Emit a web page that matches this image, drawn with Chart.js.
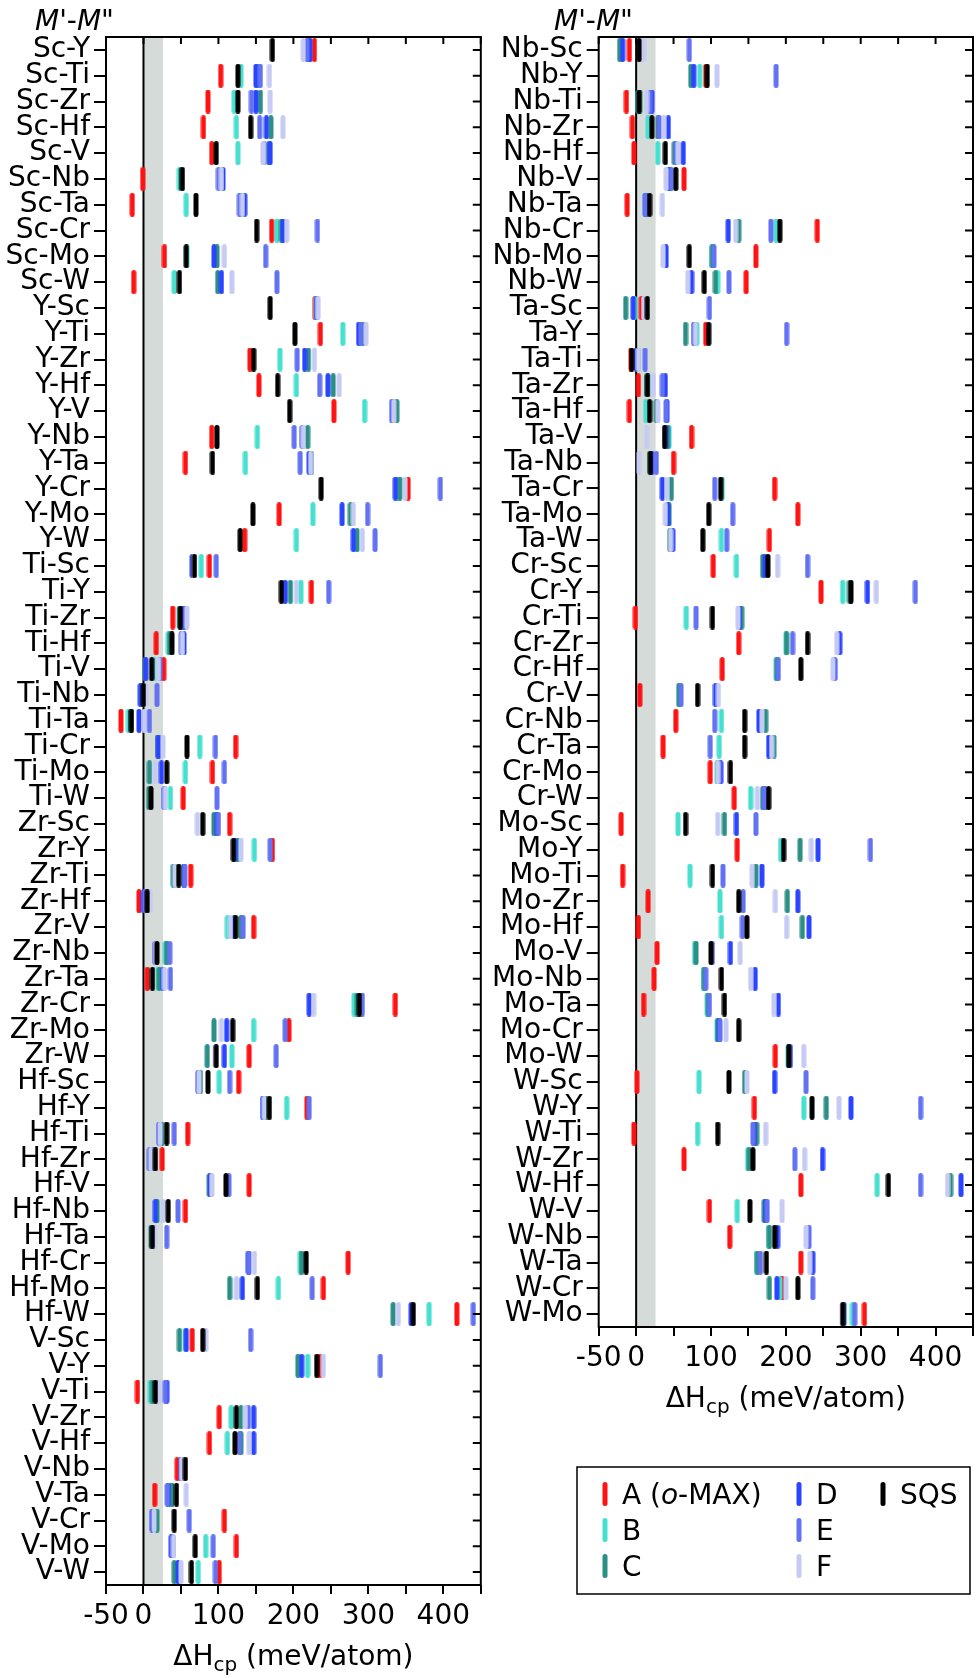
<!DOCTYPE html>
<html>
<head>
<meta charset="utf-8">
<script src="https://cdn.jsdelivr.net/npm/chart.js@4/dist/chart.umd.min.js"></script>
<style>
  html, body { margin: 0; padding: 0; background: #fff; }
  #wrap { position: relative; width: 979px; height: 1678px; }
  canvas { position: absolute; top: 0; }
  #left { left: 0; }
  #right { left: 490px; }
</style>
</head>
<body>
<div id="wrap">
  <canvas id="left" width="490" height="1678"></canvas>
  <canvas id="right" width="489" height="1678"></canvas>
</div>
<script>
// ---- data (meV/atom) ----
const seriesNames = ['A (*o*-MAX)', 'B', 'C', 'D', 'E', 'F', 'SQS'];   // *..* = italic
const seriesColors = ['#ff1212', '#45e0cf', '#2b8f86', '#2a44ff', '#6272f2', '#c6cbf4', '#000000'];
const xTickLabels = [-50, 0, 100, 200, 300, 400];
const bandRange = [0, 26];

const pairsLeft = ['Sc-Y','Sc-Ti','Sc-Zr','Sc-Hf','Sc-V','Sc-Nb','Sc-Ta','Sc-Cr','Sc-Mo','Sc-W',
  'Y-Sc','Y-Ti','Y-Zr','Y-Hf','Y-V','Y-Nb','Y-Ta','Y-Cr','Y-Mo','Y-W',
  'Ti-Sc','Ti-Y','Ti-Zr','Ti-Hf','Ti-V','Ti-Nb','Ti-Ta','Ti-Cr','Ti-Mo','Ti-W',
  'Zr-Sc','Zr-Y','Zr-Ti','Zr-Hf','Zr-V','Zr-Nb','Zr-Ta','Zr-Cr','Zr-Mo','Zr-W',
  'Hf-Sc','Hf-Y','Hf-Ti','Hf-Zr','Hf-V','Hf-Nb','Hf-Ta','Hf-Cr','Hf-Mo','Hf-W',
  'V-Sc','V-Y','V-Ti','V-Zr','V-Hf','V-Nb','V-Ta','V-Cr','V-Mo','V-W'];

const leftA = [228,103,86,80,91,-1,-15,171,28,-13, 229,236,142,154,254,91,56,353,181,135,
  88,224,39,17,27,-2,-30,123,92,53, 115,172,63,-6,147,30,5,336,194,141,
  127,218,59,25,141,56,11,273,240,418, 65,235,-8,101,88,45,15,108,124,101];
const leftB = [220,130,121,124,126,48,57,178,58,41, 230,266,182,204,295,152,136,339,226,204,
  77,210,48,33,14,-1,-20,75,56,36, 95,148,41,3,112,29,20,281,147,118,
  101,191,24,12,90,17,12,209,180,381, 56,219,9,117,112,52,37,17,83,73];
const leftC = [221,153,156,170,167,50,130,184,98,99, 231,293,220,253,338,219,224,342,276,285,
  66,196,50,35,2,-3,-17,19,8,7, 94,126,40,4,130,31,21,285,94,85,
  76,164,25,13,88,18,10,211,115,333, 48,206,12,130,130,53,38,18,39,41];
const leftD = [222,150,150,164,169,106,135,186,94,104, 231,287,215,246,333,212,221,336,265,280,
  65,189,54,54,3,-4,-6,20,24,28, 98,122,54,0,121,16,26,221,111,108,
  73,159,21,11,89,16,13,140,132,357, 57,211,31,147,147,50,33,12,37,46];
const leftE = [218,156,144,155,161,100,128,232,163,178, 231,290,205,235,331,201,209,396,299,309,
  97,247,56,50,22,18,8,96,108,98, 100,169,55,2,133,35,36,292,189,177,
  115,221,41,8,114,46,31,141,225,440, 143,316,29,140,128,50,32,61,93,96];
const leftF = [213,168,169,186,160,104,132,191,108,118, 233,297,228,261,334,213,223,349,280,292,
  67,204,58,52,20,3,1,26,15,29, 72,130,42,9,116,17,28,227,104,96,
  74,161,22,10,91,26,15,148,124,340, 83,240,21,136,141,51,57,14,40,50];
const leftSQS = [172,126,126,143,97,52,70,151,57,48, 169,202,147,179,195,98,92,237,146,129,
  68,184,49,38,11,0,-16,58,31,10, 79,120,47,5,123,18,12,288,119,97,
  86,168,31,16,110,33,12,217,152,360, 79,231,16,124,122,56,44,41,69,64];

const pairsRight = ['Nb-Sc','Nb-Y','Nb-Ti','Nb-Zr','Nb-Hf','Nb-V','Nb-Ta','Nb-Cr','Nb-Mo','Nb-W',
  'Ta-Sc','Ta-Y','Ta-Ti','Ta-Zr','Ta-Hf','Ta-V','Ta-Nb','Ta-Cr','Ta-Mo','Ta-W',
  'Cr-Sc','Cr-Y','Cr-Ti','Cr-Zr','Cr-Hf','Cr-V','Cr-Nb','Cr-Ta','Cr-Mo','Cr-W',
  'Mo-Sc','Mo-Y','Mo-Ti','Mo-Zr','Mo-Hf','Mo-V','Mo-Nb','Mo-Ta','Mo-Cr','Mo-W',
  'W-Sc','W-Y','W-Ti','W-Zr','W-Hf','W-V','W-Nb','W-Ta','W-Cr','W-Mo'];

const rightA = [-9,93,-13,-5,-3,64,-12,242,160,147, 7,93,-7,3,-9,74,50,185,216,178,
  103,247,-1,137,115,5,53,36,99,131, -20,135,-18,16,3,28,24,10,110,186,
  1,158,-3,64,220,98,125,220,195,305];
const rightB = [-20,85,3,16,29,42,12,187,101,109, -2,81,1,14,13,44,18,115,43,114,
  134,276,67,200,187,58,114,111,108,153, 56,193,72,112,114,78,90,95,108,203,
  84,224,82,149,322,135,177,161,192,289];
const rightC = [-22,73,5,29,51,44,13,137,102,106, -14,66,2,16,27,42,20,47,44,45,
  169,285,141,201,188,57,173,184,110,169, 118,219,160,202,222,80,91,96,109,204,
  145,254,161,151,420,171,178,162,178,278];
const rightD = [-18,77,21,43,63,45,13,123,40,74, -4,77,0,39,41,40,21,35,42,49,
  172,309,138,272,265,106,164,177,113,172, 134,243,168,216,231,126,159,190,111,205,
  185,287,158,249,434,173,189,236,188,277];
const rightE = [71,187,18,31,53,47,12,180,104,124, 98,201,12,35,40,39,27,105,129,121,
  229,373,80,209,190,60,105,99,111,171, 160,313,116,143,142,102,93,98,112,206,
  227,380,156,212,380,175,231,166,236,292];
const rightF = [10,108,14,37,56,40,35,133,36,69, 10,79,3,23,29,14,4,41,39,46,
  189,321,136,268,263,110,168,181,109,162, 109,234,155,186,201,139,153,184,120,224,
  148,271,173,225,416,195,227,232,200,275];
const rightSQS = [4,95,4,21,39,53,18,192,71,91, 15,97,-6,15,18,38,19,113,97,89,
  176,287,102,229,220,82,145,145,126,177, 66,197,102,137,148,100,114,118,137,204,
  124,235,109,156,337,152,185,174,216,276];

// ---- drawing helpers ----
const FAMILY = '"DejaVu Sans", sans-serif';
const SIZE = 28;

// vertical rounded bar used as the point marker
function pill(color){
  const c = document.createElement('canvas');
  c.width = 6; c.height = 24;
  const g = c.getContext('2d');
  g.strokeStyle = color; g.lineWidth = 5; g.lineCap = 'round';
  g.beginPath(); g.moveTo(3, 2.5); g.lineTo(3, 21.5); g.stroke();
  return c;
}
const markers = seriesColors.map(pill);

// text with *italic* segments
function drawRich(ctx, text, x, y){
  text.split('*').forEach((part, i) => {
    ctx.font = (i % 2 ? 'italic ' : '') + SIZE + 'px ' + FAMILY;
    ctx.fillText(part, x, y);
    x += ctx.measureText(part).width;
  });
}

function makeDatasets(pairs, series){
  return series.map((vals, i) => ({
    label: seriesNames[i].replace(/\*/g, ''),
    data: vals.map((v, j) => ({x: v, y: pairs[j]})),
    pointStyle: markers[i],
    pointRadius: 3,
    order: series.length - 1 - i     // SQS on top, A underneath
  }));
}

const panelDeco = {
  id: 'panelDeco',
  beforeDatasetsDraw(chart){
    const {ctx, chartArea: a, scales: {x}} = chart;
    const x0 = x.getPixelForValue(bandRange[0]), x1 = x.getPixelForValue(bandRange[1]);
    ctx.save();
    ctx.fillStyle = '#d4dbd8';
    ctx.fillRect(x0, a.top, x1 - x0, a.bottom - a.top);
    ctx.strokeStyle = '#000'; ctx.lineWidth = 2;
    ctx.beginPath(); ctx.moveTo(x0, a.top); ctx.lineTo(x0, a.bottom); ctx.stroke();
    ctx.restore();
  },
  afterDraw(chart, args, opts){
    const {ctx, chartArea: a, scales: {x, y}} = chart;
    ctx.save();
    ctx.strokeStyle = '#000'; ctx.lineWidth = 2;
    ctx.strokeRect(a.left, a.top, a.right - a.left, a.bottom - a.top);
    // mirrored inward ticks on top and right
    ctx.beginPath();
    x.ticks.forEach(t => { const px = x.getPixelForValue(t.value); ctx.moveTo(px, a.top); ctx.lineTo(px, a.top + 7); });
    y.getLabels().forEach((l, i) => { const py = y.getPixelForValue(i); ctx.moveTo(a.right, py); ctx.lineTo(a.right - 8, py); });
    ctx.stroke();
    // header
    ctx.fillStyle = '#000';
    ctx.textBaseline = 'alphabetic'; ctx.textAlign = 'left';
    drawRich(ctx, '*M*\'-*M*"', opts.headerX, 30);
    // axis title: ΔH_cp (meV/atom)
    const big = SIZE + 'px ' + FAMILY, small = '20px ' + FAMILY;
    ctx.font = big; const w1 = ctx.measureText('\u0394H').width, w3 = ctx.measureText(' (meV/atom)').width;
    ctx.font = small; const w2 = ctx.measureText('cp').width;
    let tx = (a.left + a.right) / 2 - (w1 + w2 + w3) / 2;
    const ty = a.bottom + 80;
    ctx.font = big; ctx.fillText('\u0394H', tx, ty); tx += w1;
    ctx.font = small; ctx.fillText('cp', tx, ty + 6); tx += w2;
    ctx.font = big; ctx.fillText(' (meV/atom)', tx, ty);
    ctx.restore();
  }
};

const legendBox = {
  id: 'legendBox',
  afterDraw(chart){
    const ctx = chart.ctx;
    ctx.save();
    ctx.strokeStyle = '#000'; ctx.lineWidth = 1.5;
    ctx.strokeRect(87, 1467, 393, 127);
    ctx.fillStyle = '#000'; ctx.textBaseline = 'alphabetic'; ctx.textAlign = 'left';
    const colX = [115, 309, 393];
    seriesNames.forEach((name, i) => {
      const mx = colX[Math.floor(i / 3)], cy = 1494 + (i % 3) * 36;
      ctx.drawImage(markers[i], mx - 3, cy - 12);
      drawRich(ctx, name, mx + 17, cy + 10);
    });
    ctx.restore();
  }
};

function makeChart(id, pairs, series, area, headerX, extra){
  return new Chart(document.getElementById(id), {
    type: 'scatter',
    data: { datasets: makeDatasets(pairs, series) },
    options: {
      responsive: false,
      animation: false,
      layout: { padding: { left: 0, top: area.top, right: area.right, bottom: area.bottom } },
      plugins: { legend: { display: false }, tooltip: { enabled: false }, panelDeco: { headerX } },
      scales: {
        x: {
          type: 'linear', min: -50, max: 450,
          afterFit: s => { s.height = area.xh; },
          ticks: { stepSize: 50, autoSkip: false, maxRotation: 0, padding: 6, color: '#000',
                   font: { family: FAMILY, size: SIZE },
                   callback: v => xTickLabels.includes(v) ? String(v) : '' },
          grid: { drawOnChartArea: false, tickLength: 9, color: '#000', lineWidth: 2 },
          border: { display: false }
        },
        y: {
          type: 'category', labels: pairs, offset: true,
          afterFit: s => { s.width = area.yw; },
          ticks: { autoSkip: false, padding: 4, color: '#000', font: { family: FAMILY, size: SIZE } },
          grid: { drawOnChartArea: false, offset: false, tickLength: 12, color: '#000', lineWidth: 2 },
          border: { display: false }
        }
      }
    },
    plugins: [panelDeco].concat(extra)
  });
}

makeChart('left', pairsLeft, [leftA, leftB, leftC, leftD, leftE, leftF, leftSQS],
  { top: 37, right: 9.2, bottom: 0, xh: 93, yw: 106 }, 35, []);
makeChart('right', pairsRight, [rightA, rightB, rightC, rightD, rightE, rightF, rightSQS],
  { top: 37, right: 5, bottom: 291, xh: 60, yw: 108.7 }, 64, [legendBox]);
</script>
</body>
</html>
